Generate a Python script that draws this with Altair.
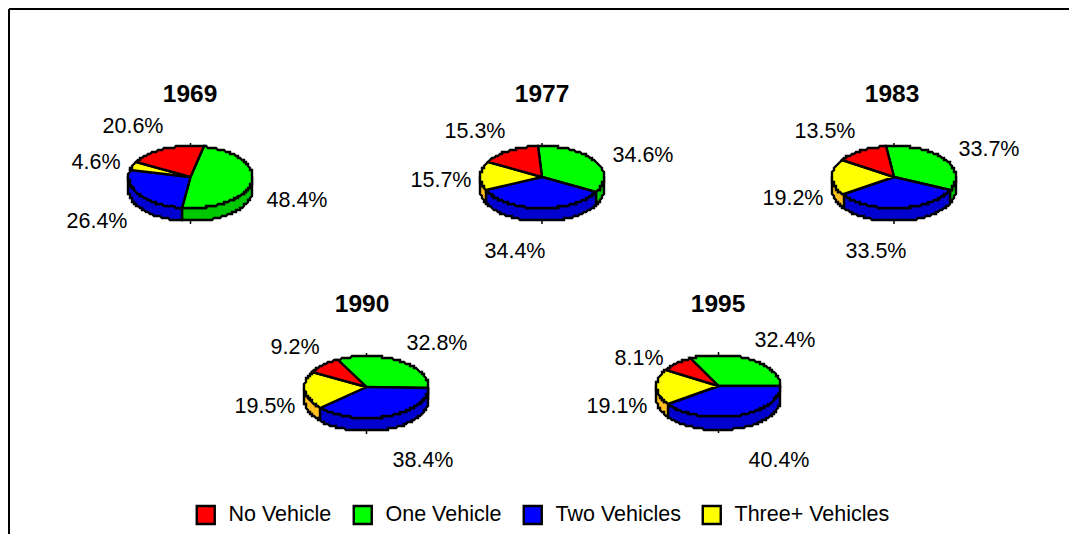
import numpy as np
import pandas as pd
import altair as alt

YEARS = ["1969", "1977", "1983", "1990", "1995"]
CATEGORIES = ["No Vehicle", "One Vehicle", "Two Vehicles", "Three+ Vehicles"]
NO_VEHICLE = [20.6, 15.3, 13.5, 9.2, 8.1]
ONE_VEHICLE = [48.4, 34.6, 33.7, 32.8, 32.4]
TWO_VEHICLES = [26.4, 34.4, 33.5, 38.4, 40.4]
THREE_VEHICLES = [4.6, 15.7, 19.2, 19.5, 19.1]

TOP_COLORS = ["#ff0000", "#00ff00", "#0000ff", "#ffff00"]
WALL_COLORS = {"No Vehicle": "#c80000", "One Vehicle": "#00c800",
               "Two Vehicles": "#0000d0", "Three+ Vehicles": "#ffc020"}

# layout (pixels in the picture)
CENTERS = {"1969": (190.5, 177), "1977": (542, 177), "1983": (894, 177),
           "1990": (366.5, 387), "1995": (718.5, 386)}
START = {"1969": 13, "1977": -4, "1983": -7, "1990": -27, "1995": -28}
TITLE_POS = {"1969": (190, 93), "1977": (542, 93), "1983": (892, 93),
             "1990": (362, 303), "1995": (718, 303)}
LABEL_POS = {
    "1969": [(133, 125), (297, 199), (97, 220), (96, 161)],
    "1977": [(475, 130), (643, 154), (515, 250), (441, 179)],
    "1983": [(825, 130), (989, 148), (876, 250), (793, 197)],
    "1990": [(295, 346), (437, 342), (423, 459), (265, 405)],
    "1995": [(639, 357), (785, 339), (779, 459), (617, 405)],
}
RX, RY, DEPTH = 62.0, 31.0, 13.0
GRID = 2.0


def snap(v):
    return float(np.round(v / GRID) * GRID)


def arc(cx, cy, a, b, dy=0.0):
    n = max(2, int(abs(b - a) / 1.5) + 1)
    out = []
    for t in np.radians(np.linspace(a, b, n)):
        out.append((snap(cx + RX * np.sin(t)), snap(cy - RY * np.cos(t) + dy)))
    return out


tops, walls, labels = [], [], []
for i, yr in enumerate(YEARS):
    cx, cy = CENTERS[yr]
    # drawn clockwise from the start: green, blue, yellow, red
    shares = [(1, ONE_VEHICLE[i]), (2, TWO_VEHICLES[i]), (3, THREE_VEHICLES[i]), (0, NO_VEHICLE[i])]
    total = sum(s for _, s in shares)
    a = START[yr]
    for k, s in shares:
        b = a + 360.0 * s / total
        cat = CATEGORIES[k]
        poly = [(cx, cy)] + arc(cx, cy, a, b) + [(cx, cy)]
        for q, (x, y) in enumerate(poly):
            tops.append(dict(key=f"{yr}-{cat}", seq=q, x=x, y=y, category=cat))
        lo, hi = max(a, 90), min(b, 270)
        if hi > lo:
            wall = arc(cx, cy, lo, hi) + arc(cx, cy, hi, lo, DEPTH)
            wall.append(wall[0])
            for q, (x, y) in enumerate(wall):
                walls.append(dict(key=f"{yr}-{cat}", seq=q, x=x, y=y, color=WALL_COLORS[cat]))
        a = b
    for k, cat in enumerate(CATEGORIES):
        val = [NO_VEHICLE, ONE_VEHICLE, TWO_VEHICLES, THREE_VEHICLES][k][i]
        lx, ly = LABEL_POS[yr][k]
        labels.append(dict(x=lx, y=ly, text=f"{val:.1f}%"))

titles = pd.DataFrame([dict(x=p[0], y=p[1], text=y) for y, p in TITLE_POS.items()])
ticks = []
for yr, (cx, cy) in CENTERS.items():
    ticks.append(dict(x=cx, y=cy - RY - 3, y2=cy - RY))
    ticks.append(dict(x=cx, y=cy + RY + DEPTH, y2=cy + RY + DEPTH + 3))
ticks = pd.DataFrame(ticks)

X = alt.X("x:Q", scale=alt.Scale(domain=[8, 1069], nice=False, zero=False), axis=None)
Y = alt.Y("y:Q", scale=alt.Scale(domain=[534, 8], nice=False, zero=False), axis=None)

wall_layer = alt.Chart(pd.DataFrame(walls)).mark_line(
    stroke="black", strokeWidth=2.4, strokeJoin="miter"
).encode(x=X, y=Y, detail="key:N", order="seq:Q",
         fill=alt.Fill("color:N", scale=None, legend=None))

top_layer = alt.Chart(pd.DataFrame(tops)).mark_line(
    stroke="black", strokeWidth=2.4, strokeJoin="miter"
).encode(
    x=X, y=Y, detail="key:N", order="seq:Q",
    fill=alt.Fill(
        "category:N",
        scale=alt.Scale(domain=CATEGORIES, range=TOP_COLORS),
        legend=alt.Legend(
            title=None, orient="none", legendX=187, legendY=496, direction="horizontal",
            columns=4, columnPadding=16, symbolType="square", symbolSize=324,
            symbolStrokeColor="black", symbolStrokeWidth=2.4, symbolOpacity=1,
            labelFont="Liberation Sans", labelFontSize=21.5, labelColor="black",
            labelOffset=12, labelLimit=300,
        ),
    ),
)

tick_layer = alt.Chart(ticks).mark_rule(color="black", strokeWidth=1.5).encode(x=X, y=Y, y2="y2:Q")

label_layer = alt.Chart(pd.DataFrame(labels)).mark_text(
    font="Liberation Sans", fontSize=21.5, color="black", align="center", baseline="middle", dy=2
).encode(x=X, y=Y, text="text:N")

title_layer = alt.Chart(titles).mark_text(
    font="Liberation Sans", fontSize=24.5, fontWeight="bold", color="black",
    align="center", baseline="middle", dy=2
).encode(x=X, y=Y, text="text:N")

frame = pd.DataFrame({"x": [9, 9], "y": [9, 534], "x2": [1069, 9], "y2": [9, 9]})
frame_layer = alt.Chart(frame).mark_rule(color="black", strokeWidth=2).encode(
    x=X, y=Y, x2="x2:Q", y2="y2:Q"
)

chart = alt.layer(
    frame_layer, wall_layer, top_layer, tick_layer, label_layer, title_layer
).resolve_scale(fill="independent").properties(
    width=1061, height=526, padding=0, background="white",
    autosize=alt.AutoSizeParams(type="none"),
).configure_view(stroke=None)

chart.save("out.html", embed_options={"renderer": "svg", "actions": False})
